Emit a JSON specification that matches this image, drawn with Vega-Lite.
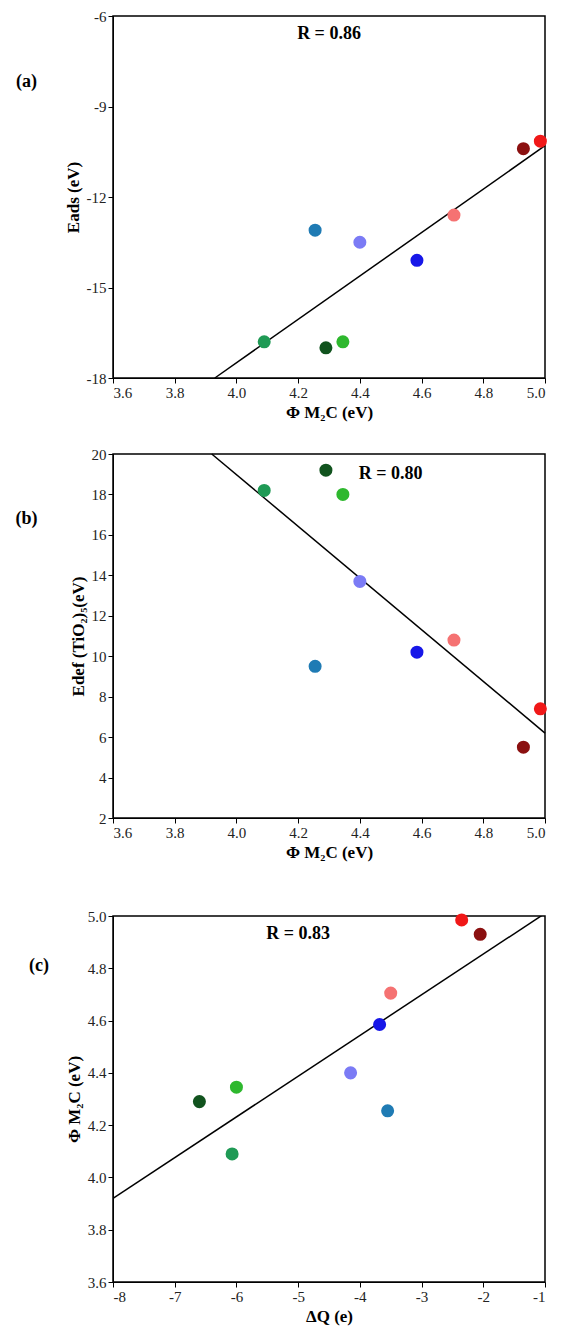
{
"$schema":"https://vega.github.io/schema/vega-lite/6.json",
"background":"white",
"padding":{"left":14,"top":8,"right":5,"bottom":5},
"spacing":47,
"config":{"view":{"stroke":"black","strokeWidth":1.5},
"font":"Liberation Serif",
"axis":{"grid":false,"domainColor":"black","tickColor":"black","labelFont":"Liberation Serif","labelFontSize":15,"labelColor":"#222","titleFont":"Liberation Serif","titleFontSize":17,"titleFontWeight":"bold","titleColor":"black","tickSize":5,"labelExpr":"replace(datum.label,'−','-')"}},
"datasets":{"pts":[
{"id":1,"phi":4.09,"eads":-16.8,"edef":18.2,"dq":-6.07,"c":"#1f9a55"},
{"id":2,"phi":4.255,"eads":-13.1,"edef":9.5,"dq":-3.55,"c":"#1f7bb4"},
{"id":3,"phi":4.29,"eads":-17.0,"edef":19.2,"dq":-6.6,"c":"#11531e"},
{"id":4,"phi":4.345,"eads":-16.8,"edef":18.0,"dq":-6.0,"c":"#2eb82e"},
{"id":5,"phi":4.40,"eads":-13.5,"edef":13.7,"dq":-4.15,"c":"#7b7bf5"},
{"id":6,"phi":4.585,"eads":-14.1,"edef":10.2,"dq":-3.68,"c":"#1717e8"},
{"id":7,"phi":4.705,"eads":-12.6,"edef":10.8,"dq":-3.5,"c":"#f57272"},
{"id":8,"phi":4.93,"eads":-10.4,"edef":5.5,"dq":-2.05,"c":"#8b1010"},
{"id":9,"phi":4.985,"eads":-10.15,"edef":7.4,"dq":-2.35,"c":"#f01818"}]},
"vconcat":[
{"spacing":25,"vconcat":[
{"width":432,"height":362,"layer":[
{"data":{"values":[{"x":3.93,"y":-18},{"x":5.0,"y":-10.3}]},"mark":{"type":"line","color":"black","strokeWidth":1.5},
"encoding":{"x":{"field":"x","type":"quantitative","scale":{"domain":[3.6,5.0]},"axis":{"title":"Φ M₂C (eV)","values":[3.6,3.8,4.0,4.2,4.4,4.6,4.8,5.0],"format":".1f"}},
"y":{"field":"y","type":"quantitative","scale":{"domain":[-18,-6]},"axis":{"title":"Eads (eV)","values":[-18,-15,-12,-9,-6]}}}},
{"data":{"name":"pts"},"mark":{"type":"circle","size":170,"opacity":1},"encoding":{"x":{"field":"phi","type":"quantitative"},"y":{"field":"eads","type":"quantitative"},"color":{"field":"c","type":"nominal","scale":null}}},
{"data":{"values":[{"x":4.3,"y":-6.6,"t":"R = 0.86"},{"x":3.32,"y":-8.2,"t":"(a)"}]},"mark":{"type":"text","fontWeight":"bold","fontSize":18,"clip":false,"align":"center"},"encoding":{"x":{"field":"x","type":"quantitative"},"y":{"field":"y","type":"quantitative"},"text":{"field":"t"}}}]},
{"width":432,"height":364,"layer":[
{"data":{"values":[{"x":3.92,"y":20},{"x":5.0,"y":6.2}]},"mark":{"type":"line","color":"black","strokeWidth":1.5},
"encoding":{"x":{"field":"x","type":"quantitative","scale":{"domain":[3.6,5.0]},"axis":{"title":"Φ M₂C (eV)","values":[3.6,3.8,4.0,4.2,4.4,4.6,4.8,5.0],"format":".1f"}},
"y":{"field":"y","type":"quantitative","scale":{"domain":[2,20]},"axis":{"title":"Edef (TiO₂)₅(eV)","values":[2,4,6,8,10,12,14,16,18,20]}}}},
{"data":{"name":"pts"},"mark":{"type":"circle","size":170,"opacity":1},"encoding":{"x":{"field":"phi","type":"quantitative"},"y":{"field":"edef","type":"quantitative"},"color":{"field":"c","type":"nominal","scale":null}}},
{"data":{"values":[{"x":4.5,"y":19.0,"t":"R = 0.80"},{"x":3.32,"y":16.8,"t":"(b)"}]},"mark":{"type":"text","fontWeight":"bold","fontSize":18,"clip":false,"align":"center"},"encoding":{"x":{"field":"x","type":"quantitative"},"y":{"field":"y","type":"quantitative"},"text":{"field":"t"}}}]}]},
{"width":432,"height":366,"layer":[
{"data":{"values":[{"x":-8,"y":3.92},{"x":-1,"y":5.01}]},"mark":{"type":"line","color":"black","strokeWidth":1.5,"clip":true},
"encoding":{"x":{"field":"x","type":"quantitative","scale":{"domain":[-8,-1]},"axis":{"title":"ΔQ (e)","values":[-8,-7,-6,-5,-4,-3,-2,-1],"format":"d"}},
"y":{"field":"y","type":"quantitative","scale":{"domain":[3.6,5.0]},"axis":{"title":"Φ M₂C (eV)","values":[3.6,3.8,4.0,4.2,4.4,4.6,4.8,5.0],"format":".1f"}}}},
{"data":{"name":"pts"},"mark":{"type":"circle","size":170,"opacity":1},"encoding":{"x":{"field":"dq","type":"quantitative"},"y":{"field":"phi","type":"quantitative"},"color":{"field":"c","type":"nominal","scale":null}}},
{"data":{"values":[{"x":-5.0,"y":4.93,"t":"R = 0.83"},{"x":-9.2,"y":4.81,"t":"(c)"}]},"mark":{"type":"text","fontWeight":"bold","fontSize":18,"clip":false,"align":"center"},"encoding":{"x":{"field":"x","type":"quantitative"},"y":{"field":"y","type":"quantitative"},"text":{"field":"t"}}}]}
]}
